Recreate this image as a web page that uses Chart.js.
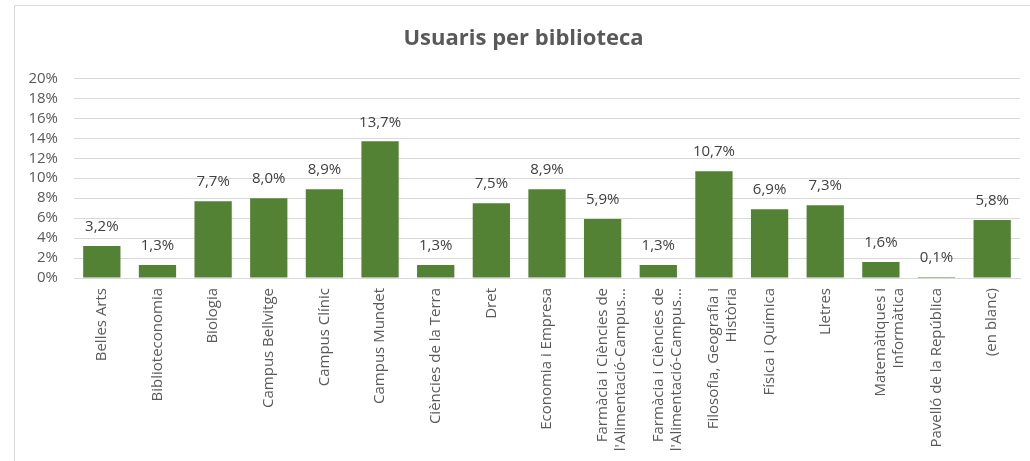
<!DOCTYPE html>
<html>
<head>
<meta charset="utf-8">
<script src="https://cdn.jsdelivr.net/npm/chart.js@4/dist/chart.umd.min.js"></script>
<style>
  html, body { margin: 0; padding: 0; background: #ffffff; overflow: hidden; }
  #wrap { position: absolute; left: 0; top: 0; width: 1030px; height: 461px; }
</style>
</head>
<body>
<div id="wrap"><canvas id="usuaris-chart" width="1030" height="461"></canvas></div>
<script>
/* ===================================
   DATA
   =================================== */
const biblioteques = [
  "Belles Arts",
  "Biblioteconomia",
  "Biologia",
  "Campus Bellvitge",
  "Campus Clínic",
  "Campus Mundet",
  "Ciències de la Terra",
  "Dret",
  "Economia i Empresa",
  ["Farmàcia i Ciències de", "l'Alimentació-Campus..."],
  ["Farmàcia i Ciències de", "l'Alimentació-Campus..."],
  ["Filosofia, Geografia i", "Història"],
  "Física i Química",
  "Lletres",
  ["Matemàtiques i", "Informàtica"],
  "Pavelló de la República",
  "(en blanc)"
];
const percentUsuaris = [3.2, 1.3, 7.7, 8.0, 8.9, 13.7, 1.3, 7.5, 8.9, 5.9, 1.3, 10.7, 6.9, 7.3, 1.6, 0.1, 5.8];
const yTicks = [0, 2, 4, 6, 8, 10, 12, 14, 16, 18, 20];

const labelColor = "#595959";
const valueColor = "#404040";
const gridColor = "#d9d9d9";
const barColor = "#548235";
const fontFamily = "'Open Sans', sans-serif";

const fmtPct = (v, decimals) => v.toFixed(decimals).replace(".", ",") + "%";

/**
 * Outer frame of the chart (left and top edges only are visible)
 */
const framePlugin = {
  id: "frame",
  beforeDraw(chart) {
    const { ctx, width, height } = chart;
    ctx.save();
    ctx.strokeStyle = gridColor;
    ctx.lineWidth = 1;
    ctx.beginPath();
    ctx.moveTo(14.5, height);
    ctx.lineTo(14.5, 5.5);
    ctx.lineTo(width, 5.5);
    ctx.stroke();
    ctx.restore();
  }
};

/**
 * Value labels above each bar
 */
const valueLabels = {
  id: "valueLabels",
  afterDatasetsDraw(chart) {
    const { ctx } = chart;
    const meta = chart.getDatasetMeta(0);
    ctx.save();
    ctx.font = `15px ${fontFamily}`;
    ctx.fillStyle = valueColor;
    ctx.textAlign = "center";
    ctx.textBaseline = "middle";
    meta.data.forEach((bar, i) => {
      ctx.fillText(fmtPct(percentUsuaris[i], 1), bar.x, bar.y - 19);
    });
    ctx.restore();
  }
};

const ctx = document.getElementById("usuaris-chart").getContext("2d");

new Chart(ctx, {
  type: "bar",
  data: {
    labels: biblioteques,
    datasets: [{
      label: "Usuaris",
      data: percentUsuaris,
      backgroundColor: barColor,
      borderWidth: 0,
      categoryPercentage: 1,
      barPercentage: 0.67,
    }],
  },
  options: {
    responsive: false,
    animation: false,
    devicePixelRatio: 1,
    layout: { padding: { left: 27, right: 10, top: 0, bottom: 0 } },
    plugins: {
      legend: { display: false },
      tooltip: { enabled: false },
      title: {
        display: true,
        text: "Usuaris per biblioteca",
        color: labelColor,
        font: { family: fontFamily, size: 22, weight: "bold" },
        padding: { top: 26, bottom: 26 },
      },
    },
    scales: {
      x: {
        grid: { display: false, drawTicks: false },
        border: { display: true, color: gridColor, width: 1 },
        ticks: {
          color: labelColor,
          font: { family: fontFamily, size: 15 },
          minRotation: 90,
          maxRotation: 90,
          padding: 10,
          autoSkip: false,
        },
        afterFit(scale) { scale.height = 183; },
      },
      y: {
        min: 0,
        max: 20,
        afterBuildTicks(scale) { scale.ticks = yTicks.map(v => ({ value: v })); },
        grid: { color: gridColor, lineWidth: 1, drawTicks: false },
        border: { display: false },
        ticks: {
          color: labelColor,
          font: { family: fontFamily, size: 15 },
          padding: 16,
          autoSkip: false,
          callback: (v) => fmtPct(v, 0),
        },
        afterFit(scale) { scale.width = 47; },
      },
    },
  },
  plugins: [framePlugin, valueLabels],
});
</script>
</body>
</html>
